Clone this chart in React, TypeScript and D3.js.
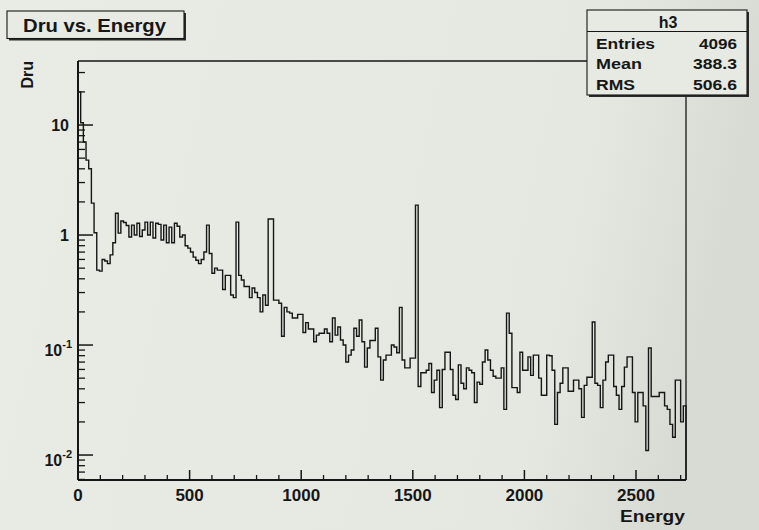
import React from "react";
import * as d3 from "d3";

// Histogram "h3": Dru per 12-unit energy bin
const binWidth = 12;
const energyMax = 2724;
const druValues: number[] = [
  20, 10.5, 7, 4.8, 4.0, 1.95, 1.05, 0.48, 0.47, 0.6,
  0.58, 0.55, 0.66, 0.85, 1.58, 1.04, 1.34, 1.3, 1.22, 0.96,
  1.23, 1.0, 1.28, 0.97, 1.11, 1.31, 1.0, 1.31, 0.94, 1.28,
  1.25, 0.9, 1.23, 0.85, 1.18, 0.85, 1.28, 1.2, 0.96, 1.0,
  0.8, 0.76, 0.7, 0.63, 0.59, 0.55, 0.6, 0.7, 1.23, 0.68,
  0.45, 0.5, 0.48, 0.48, 0.32, 0.43, 0.43, 0.285, 0.27, 1.31,
  0.43, 0.39, 0.34, 0.34, 0.27, 0.33, 0.3, 0.27, 0.2, 0.285,
  0.23, 1.4, 1.4, 0.256, 0.256, 0.24, 0.12, 0.22, 0.2, 0.195,
  0.176, 0.176, 0.19, 0.19, 0.13, 0.16, 0.14, 0.14, 0.107, 0.123,
  0.128, 0.128, 0.14, 0.128, 0.107, 0.176, 0.123, 0.146, 0.111, 0.1,
  0.07, 0.081, 0.09, 0.142, 0.12, 0.169, 0.107, 0.063, 0.094, 0.11,
  0.11, 0.142, 0.078, 0.048, 0.073, 0.081, 0.081, 0.1, 0.096, 0.085,
  0.22, 0.073, 0.062, 0.062, 0.076, 0.076, 1.87, 0.042, 0.056, 0.056,
  0.059, 0.068, 0.037, 0.048, 0.059, 0.027, 0.06, 0.086, 0.086, 0.06,
  0.035, 0.032, 0.066, 0.045, 0.04, 0.062, 0.059, 0.056, 0.03, 0.046,
  0.044, 0.07, 0.09, 0.073, 0.059, 0.052, 0.05, 0.05, 0.062, 0.026,
  0.195, 0.128, 0.041, 0.041, 0.037, 0.086, 0.059, 0.059, 0.078, 0.053,
  0.081, 0.081, 0.05, 0.035, 0.035, 0.081, 0.08, 0.059, 0.019, 0.037,
  0.045, 0.062, 0.062, 0.038, 0.038, 0.048, 0.048, 0.04, 0.022, 0.043,
  0.051, 0.051, 0.162, 0.045, 0.043, 0.027, 0.048, 0.07, 0.081, 0.081,
  0.042, 0.035, 0.026, 0.042, 0.063, 0.078, 0.078, 0.037, 0.02, 0.037,
  0.037, 0.028, 0.011, 0.094, 0.034, 0.034, 0.034, 0.037, 0.037, 0.028,
  0.026, 0.019, 0.0145, 0.048, 0.048, 0.02, 0.028,
];

const xMajorTicks = [0, 500, 1000, 1500, 2000, 2500];
const xMinorStep = 100;
const yDecadeExponents = [-2, -1, 0, 1];
const yRange: [number, number] = [0.00593, 38.2];

const titleText = "Dru vs. Energy";
const histName = "h3";
const statLabels = ["Entries", "Mean", "RMS"];
const statValues = ["4096", "388.3", "506.6"];
const xTitle = "Energy";
const yTitle = "Dru";

const W = 759;
const H = 530;
const frame = { left: 78, right: 686, top: 61, bottom: 480 };
const ink = "#161616";
const font = "'Liberation Sans', Arial, Helvetica, sans-serif";

// widths of the stats-box words, so the pave keeps its wide lettering
const statLabelWidths = [59, 46, 39];
const statValueWidths = [38, 44, 44];

export default function App() {
  const x = d3.scaleLinear().domain([0, energyMax]).range([frame.left, frame.right]);
  const y = d3.scaleLog().domain(yRange).range([frame.bottom, frame.top]);

  // step outline: rise from the floor at the first edge, drop to it at the last
  const pts: [number, number][] = [[0, yRange[0]]];
  druValues.forEach((v, i) => pts.push([i * binWidth, v]));
  const endE = druValues.length * binWidth;
  pts.push([endE, druValues[druValues.length - 1]]);
  pts.push([endE, yRange[0]]);
  const histPath =
    d3
      .line<[number, number]>()
      .x((d) => x(d[0]))
      .y((d) => y(d[1]))
      .curve(d3.curveStepAfter)(pts) || "";

  const xMinor = d3.range(0, energyMax + 1, xMinorStep).filter((t) => t % 500 !== 0);

  const yMinor: number[] = [];
  for (let e = -3; e <= 1; e++) {
    for (let m = 2; m <= 9; m++) {
      const v = m * Math.pow(10, e);
      if (v > yRange[0] && v < yRange[1]) yMinor.push(v);
    }
  }

  const statsBox = { x: 587, y: 10, w: 160, h: 85, header: 21.5 };

  return (
    <svg
      width={W}
      height={H}
      viewBox={`0 0 ${W} ${H}`}
      style={{ position: "absolute", left: 0, top: 0, display: "block" }}
      fontFamily={font}
    >
      <defs>
        <linearGradient id="paper" x1="0" y1="0" x2="1" y2="0.15">
          <stop offset="0" stopColor="#e9ece4" />
          <stop offset="0.8" stopColor="#e5e8e0" />
          <stop offset="1" stopColor="#d8dbd4" />
        </linearGradient>
      </defs>
      <rect x={0} y={0} width={W} height={H} fill="url(#paper)" />

      {/* frame */}
      <line x1={frame.left} y1={frame.top} x2={frame.right} y2={frame.top} stroke={ink} strokeWidth={1.3} />
      <line x1={frame.right} y1={frame.top} x2={frame.right} y2={frame.bottom} stroke={ink} strokeWidth={1.3} />

      {/* histogram */}
      <path d={histPath} fill="none" stroke={ink} strokeWidth={1.4} strokeLinejoin="miter" />

      {/* axes */}
      <line x1={frame.left} y1={frame.top} x2={frame.left} y2={frame.bottom} stroke={ink} strokeWidth={2} />
      <line x1={frame.left} y1={frame.bottom} x2={frame.right} y2={frame.bottom} stroke={ink} strokeWidth={2} />

      {/* x ticks */}
      {xMajorTicks.map((t) => (
        <g key={`xm${t}`}>
          <line x1={x(t)} x2={x(t)} y1={frame.bottom} y2={frame.bottom - 10} stroke={ink} strokeWidth={1.5} />
          <text x={x(t)} y={501} textAnchor="middle" fontSize={17} fontWeight="bold" fill={ink}>
            {t}
          </text>
        </g>
      ))}
      {xMinor.map((t) => (
        <line key={`xn${t}`} x1={x(t)} x2={x(t)} y1={frame.bottom} y2={frame.bottom - 5} stroke={ink} strokeWidth={1.3} />
      ))}

      {/* y ticks */}
      {yDecadeExponents.map((e) => {
        const v = Math.pow(10, e);
        const yy = y(v);
        return (
          <g key={`ym${e}`}>
            <line x1={frame.left} x2={frame.left + 15} y1={yy} y2={yy} stroke={ink} strokeWidth={1.5} />
            {e === 0 || e === 1 ? (
              <text x={69} y={yy + 6} textAnchor="end" fontSize={16} fontWeight="bold" fill={ink}>
                {e === 0 ? "1" : "10"}
              </text>
            ) : (
              <text x={72} y={yy + 11} textAnchor="end" fontSize={16} fontWeight="bold" fill={ink}>
                10
                <tspan fontSize={11} dy={-8}>
                  {e}
                </tspan>
              </text>
            )}
          </g>
        );
      })}
      {yMinor.map((v) => (
        <line key={`yn${v}`} x1={frame.left} x2={frame.left + 7} y1={y(v)} y2={y(v)} stroke={ink} strokeWidth={1.3} />
      ))}

      {/* axis titles */}
      <text
        x={33}
        y={frame.top}
        transform={`rotate(-90, 33, ${frame.top})`}
        textAnchor="end"
        fontSize={16}
        fontWeight="bold"
        fill={ink}
      >
        {yTitle}
      </text>
      <text x={685} y={522} textAnchor="end" fontSize={16} fontWeight="bold" fill={ink} textLength={65} lengthAdjust="spacingAndGlyphs">
        {xTitle}
      </text>

      {/* title pave */}
      <rect x={9} y={13} width={177} height={27.5} fill="#2a2a2a" />
      <rect x={7} y={11} width={177} height={27.5} fill="#e8ebe3" stroke={ink} strokeWidth={1.1} />
      <text x={23} y={31.5} fontSize={19} fontWeight="bold" fill={ink} textLength={143} lengthAdjust="spacingAndGlyphs">
        {titleText}
      </text>

      {/* statistics pave */}
      <rect x={statsBox.x + 2} y={statsBox.y + 2} width={statsBox.w} height={statsBox.h} fill="#2a2a2a" />
      <rect x={statsBox.x} y={statsBox.y} width={statsBox.w} height={statsBox.h} fill="#e7eae2" stroke={ink} strokeWidth={1.1} />
      <line
        x1={statsBox.x}
        x2={statsBox.x + statsBox.w}
        y1={statsBox.y + statsBox.header}
        y2={statsBox.y + statsBox.header}
        stroke={ink}
        strokeWidth={1.1}
      />
      <text x={668} y={28.3} textAnchor="middle" fontSize={16} fontWeight="bold" fill={ink}>
        {histName}
      </text>
      {statLabels.map((lab, i) => (
        <g key={lab}>
          <text
            x={596}
            y={48.5 + i * 20.9}
            fontSize={15}
            fontWeight="bold"
            fill={ink}
            textLength={statLabelWidths[i]}
            lengthAdjust="spacingAndGlyphs"
          >
            {lab}
          </text>
          <text
            x={737 - statValueWidths[i]}
            y={48.5 + i * 20.9}
            fontSize={15}
            fontWeight="bold"
            fill={ink}
            textLength={statValueWidths[i]}
            lengthAdjust="spacingAndGlyphs"
          >
            {statValues[i]}
          </text>
        </g>
      ))}
    </svg>
  );
}
